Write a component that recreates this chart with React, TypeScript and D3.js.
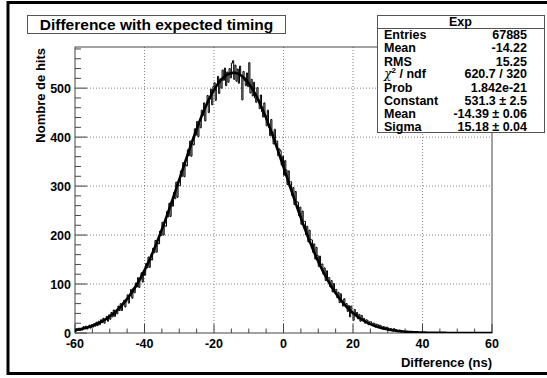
import React from "react";
import * as d3 from "d3";

// ---- data (bin width 1/3 ns, from -60 to 60) ----
const binLow = -60;
const binHigh = 60;
const counts: number[] = [
  3, 9, 6, 10, 5, 8, 6, 13, 9, 14, 8, 11, 16, 10, 17, 12, 19, 14, 22, 15, 24, 17, 27, 21,
  30, 20, 27, 34, 24, 37, 28, 42, 33, 47, 34, 44, 39, 55, 46, 60, 46, 62, 67, 53, 70, 78, 61, 80,
  89, 71, 92, 82, 102, 94, 113, 93, 109, 123, 104, 127, 118, 142, 133, 155, 134, 151,
  149, 173, 164, 189, 165, 184, 182, 208, 199, 226, 200, 219, 218, 248, 237, 265, 238, 268,
  259, 287, 274, 308, 277, 301, 301, 331, 320, 348, 319, 344, 341, 374, 362, 392, 361, 387,
  384, 417, 404, 432, 401, 428, 419, 455, 444, 470, 433, 465, 485, 450, 478, 498, 466, 503,
  511, 475, 506, 524, 489, 519, 500, 537, 516, 541, 505, 533, 512, 540, 521, 551, 556, 518,
  547, 514, 539, 510, 545, 525, 476, 534, 515, 505, 531, 503, 552, 490, 518, 484, 512, 480,
  471, 501, 476, 458, 486, 452, 441, 470, 445, 423, 455, 420, 403, 436, 411, 386, 416, 392,
  392, 362, 376, 372, 343, 361, 322, 352, 333, 303, 331, 309, 309, 281, 297, 262, 289, 268,
  267, 240, 257, 222, 249, 228, 228, 201, 218, 186, 210, 191, 190, 165, 182, 151, 175, 158,
  136, 157, 140, 141, 120, 133, 107, 127, 112, 113, 94, 107, 84, 101, 88, 89, 72, 83,
  62, 80, 67, 55, 70, 58, 60, 44, 56, 33, 55, 41, 26, 48, 35, 42, 29, 38, 24, 36, 28,
  30, 20, 27, 26, 17, 23, 23, 15, 20, 20, 12, 18, 17, 10, 16, 14, 8, 13, 12, 7, 12,
  10, 5, 9, 8, 4, 9, 6, 7, 3, 5, 6, 2, 4, 3, 2, 3, 2, 3, 2, 2, 1, 2, 1, 1, 1, 1, 2,
  1, 0, 1, 1, 1, 0, 0, 1, 0, 0, 0, 1, 0, 0, 0, 0, 1, 0,
  0, 0, 0, 0, 0, 0, 0, 0, 0, 0, 0, 0, 0, 0, 0, 0, 0, 0, 0, 0, 0, 0, 0, 0,
  0, 0, 0, 0, 0, 0, 0, 0, 0, 0, 0, 0, 0, 0, 0, 0, 0, 0, 0, 0, 0,
];

const fitConstant = 531.3;
const fitMean = -14.39;
const fitSigma = 15.18;

const xTicks = [-60, -40, -20, 0, 20, 40, 60];
const yTicks = [0, 100, 200, 300, 400, 500];
const yMax = 584;

const title = "Difference with expected timing";
const xLabel = "Difference (ns)";
const yLabel = "Nombre de hits";
const statsTitle = "Exp";
const statLabels = ["Entries", "Mean", "RMS", "CHI", "Prob", "Constant", "Mean", "Sigma"];
const statValues = ["67885", "-14.22", "15.25", "620.7 / 320", "1.842e-21", "531.3 ± 2.5", "-14.39 ± 0.06", "15.18 ± 0.04"];

const FONT = "'Liberation Sans', Arial, Helvetica, sans-serif";

export default function App() {
  const W = 547, H = 378;
  const left = 75, right = 492, top = 47, bottom = 333;
  const x = d3.scaleLinear().domain([binLow, binHigh]).range([left, right]);
  const y = d3.scaleLinear().domain([0, yMax]).range([bottom, top]);

  const nb = counts.length;
  const bw = (binHigh - binLow) / nb;
  const pts: [number, number][] = counts.map((c, i) => [binLow + i * bw, c]);
  pts.push([binHigh, counts[nb - 1]]);
  const histPath = d3
    .line<[number, number]>()
    .x((d) => x(d[0]))
    .y((d) => y(d[1]))
    .curve(d3.curveStepAfter)(pts) as string;

  const fitPts: [number, number][] = d3.range(0, 601).map((i) => {
    const xv = binLow + (i * (binHigh - binLow)) / 600;
    return [xv, fitConstant * Math.exp(-0.5 * ((xv - fitMean) / fitSigma) ** 2)];
  });
  const fitPath = d3
    .line<[number, number]>()
    .x((d) => x(d[0]))
    .y((d) => y(Math.min(d[1], yMax)))
    .curve(d3.curveLinear)(fitPts) as string;

  const xMinor = d3.range(-60, 60.01, 5).filter((v) => !xTicks.includes(v));
  const yMinor = d3.range(0, yMax, 20).filter((v) => !yTicks.includes(v));

  const axisColor = "#444";
  const gridColor = "#666";

  const sx0 = 377, sx1 = 544, sy0 = 15, sy1 = 132;
  const rowY = [34, 47, 61, 73.5, 87, 100, 113, 126];

  return (
    <svg width={W} height={H} style={{ position: "absolute", left: 0, top: 0, background: "#fff" }} fontFamily={FONT}>
      <rect x={0} y={0} width={W} height={H} fill="#fff" />
      {/* outer canvas frame */}
      <rect x={8} y={2.5} width={600} height={371} fill="none" stroke="#000" strokeWidth={3} />

      {/* grid */}
      {xTicks.filter((v) => v > -60 && v < 60).map((v) => (
        <line key={"gx" + v} x1={x(v)} x2={x(v)} y1={top} y2={bottom} stroke={gridColor} strokeWidth={0.8} strokeDasharray="1,2" />
      ))}
      {yTicks.filter((v) => v > 0).map((v) => (
        <line key={"gy" + v} x1={left} x2={right} y1={y(v)} y2={y(v)} stroke={gridColor} strokeWidth={0.8} strokeDasharray="1,2" />
      ))}

      {/* frame */}
      <rect x={left} y={top} width={right - left} height={bottom - top} fill="none" stroke={axisColor} strokeWidth={1} />

      {/* ticks */}
      {xTicks.map((v) => (
        <line key={"tx" + v} x1={x(v)} x2={x(v)} y1={bottom} y2={bottom - 9} stroke={axisColor} />
      ))}
      {xMinor.map((v) => (
        <line key={"mx" + v} x1={x(v)} x2={x(v)} y1={bottom} y2={bottom - 4.5} stroke={axisColor} />
      ))}
      {yTicks.map((v) => (
        <line key={"ty" + v} x1={left} x2={left + 12} y1={y(v)} y2={y(v)} stroke={axisColor} />
      ))}
      {yMinor.map((v) => (
        <line key={"my" + v} x1={left} x2={left + 6} y1={y(v)} y2={y(v)} stroke={axisColor} />
      ))}

      {/* histogram */}
      <clipPath id="plotclip">
        <rect x={left} y={top} width={right - left} height={bottom - top} />
      </clipPath>
      <path d={histPath} fill="none" stroke="#000" strokeWidth={1} clipPath="url(#plotclip)" />
      <path d={fitPath} fill="none" stroke="#000" strokeWidth={2.6} clipPath="url(#plotclip)" />

      {/* tick labels */}
      {xTicks.map((v) => (
        <text key={"lx" + v} x={x(v)} y={348} textAnchor="middle" fontSize={12.5} fontWeight="bold">{v}</text>
      ))}
      {yTicks.map((v) => (
        <text key={"ly" + v} x={71} y={y(v) + 4.5} textAnchor="end" fontSize={12.5} fontWeight="bold">{v}</text>
      ))}

      {/* axis titles */}
      <text x={right} y={367} textAnchor="end" fontSize={13} fontWeight="bold">{xLabel}</text>
      <text transform={`translate(45,${top + 1}) rotate(-90)`} textAnchor="end" fontSize={13} fontWeight="bold">{yLabel}</text>

      {/* title box */}
      <rect x={27.5} y={15.5} width={258} height={18} fill="#fff" stroke="#555" strokeWidth={1} />
      <text x={156.5} y={30} textAnchor="middle" fontSize={15.5} fontWeight="bold">{title}</text>

      {/* stats box */}
      <rect x={sx0 + 0.5} y={sy0 + 0.5} width={sx1 - sx0} height={sy1 - sy0} fill="#fff" stroke="#555" strokeWidth={1} />
      <line x1={sx0} x2={sx1} y1={28.5} y2={28.5} stroke="#555" />
      <text x={(sx0 + sx1) / 2} y={25.5} textAnchor="middle" fontSize={12.5} fontWeight="bold">{statsTitle}</text>
      {statLabels.map((l, i) => (
        <text key={"sl" + i} x={384} y={rowY[i] + 4.5} fontSize={12.5} fontWeight="bold">
          {l === "CHI" ? (
            <>
              <tspan fontWeight="normal" fontFamily="'DejaVu Serif', serif" fontStyle="italic">χ</tspan>
              <tspan fontSize={8} dy={-5}>2</tspan>
              <tspan dy={5}> / ndf</tspan>
            </>
          ) : l}
        </text>
      ))}
      {statValues.map((v, i) => (
        <text key={"sv" + i} x={527} y={rowY[i] + 4.5} textAnchor="end" fontSize={12.5} fontWeight="bold">{v}</text>
      ))}
    </svg>
  );
}
